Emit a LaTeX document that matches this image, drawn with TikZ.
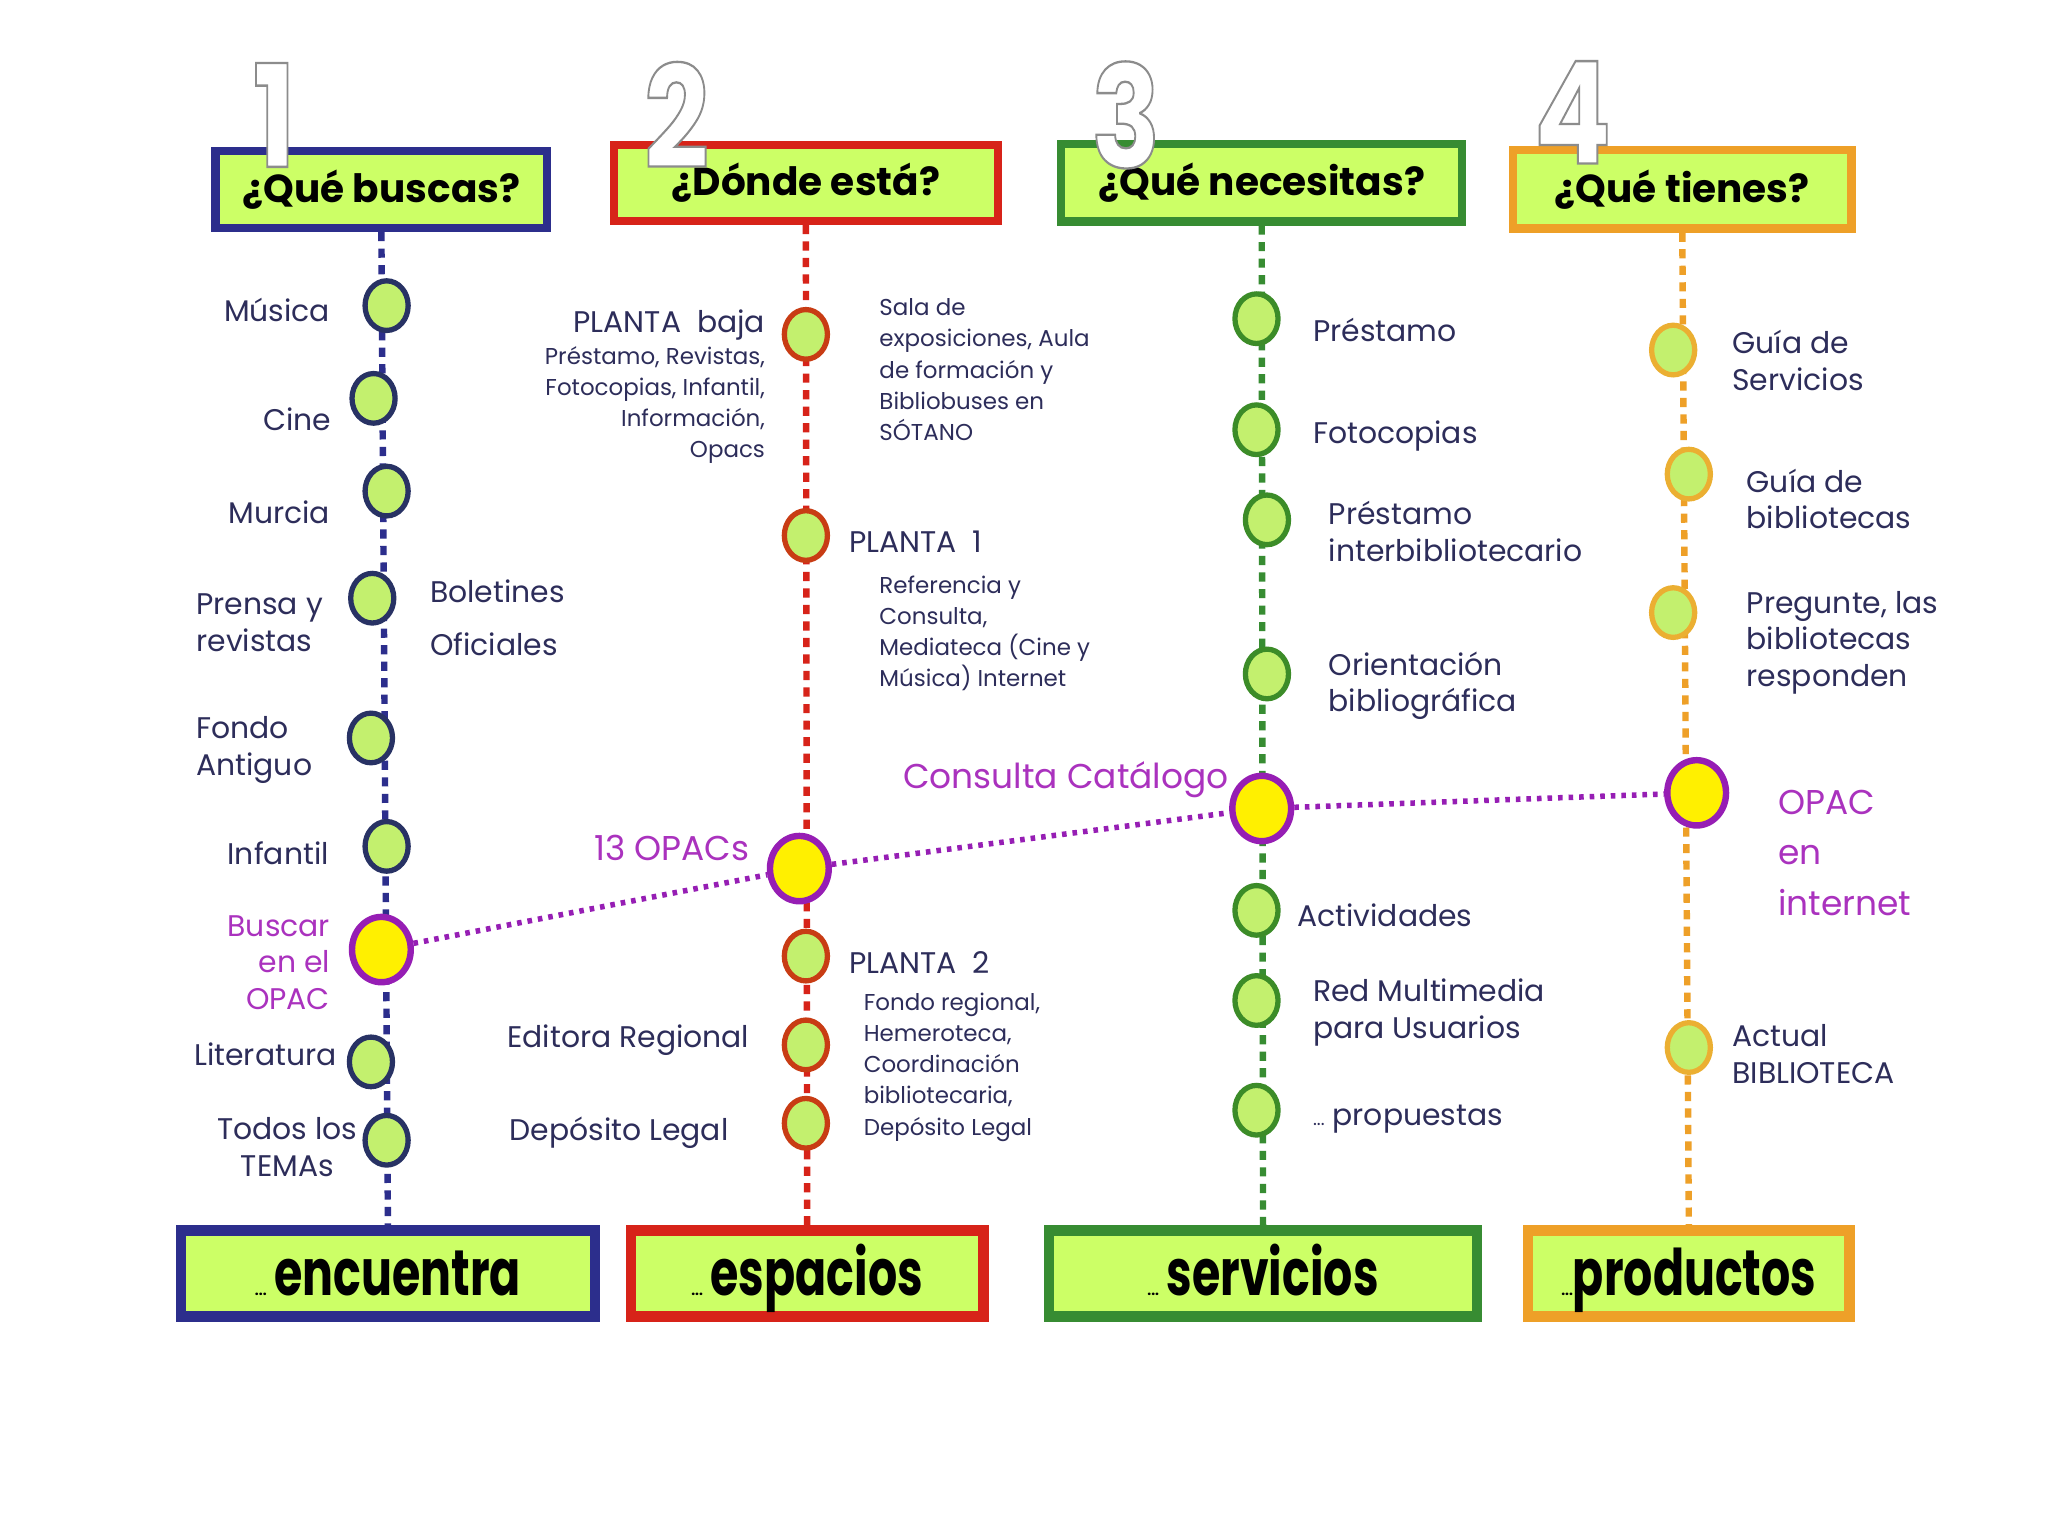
\documentclass[tikz,border=0pt]{standalone}
\usepackage{fontspec}
\setmainfont{Poppins}
\usetikzlibrary{shapes.geometric}

\definecolor{qBlue}{RGB}{44,46,140}
\definecolor{qRed}{RGB}{215,35,25}
\definecolor{qGreen}{RGB}{55,140,50}
\definecolor{qOrange}{RGB}{238,160,40}
\definecolor{boxFill}{RGB}{204,255,102}
\definecolor{dotFill}{RGB}{195,240,110}
\definecolor{hubPurple}{RGB}{150,30,180}
\definecolor{hubYellow}{RGB}{255,240,0}
\definecolor{txtNavy}{RGB}{45,45,90}
\definecolor{txtPurple}{RGB}{170,50,190}
\definecolor{ringBlue}{RGB}{40,50,100}
\definecolor{ringRed}{RGB}{200,60,20}
\definecolor{ringGreen}{RGB}{60,140,40}
\definecolor{ringGold}{RGB}{235,175,50}

% cifra hueca: relleno blanco, trazo gris
\newcommand\hollownum[1]{\special{pdf:literal direct 2 Tr 1 w 0.55 G}#1\special{pdf:literal direct 0 Tr}}

\tikzset{
  qbox/.style={draw, line width=3.6pt, fill=boxFill, inner sep=0pt, text=black,
    font=\fontsize{17}{20}\selectfont\bfseries},
  endbox/.style={draw, line width=4.5pt, fill=boxFill, inner sep=0pt, text=black,
    minimum height=1.32cm, text height=0.8cm, text depth=0.12cm,
    font=\fontsize{20}{24}\selectfont\bfseries},
  rail/.style={line width=2.8pt, dash pattern=on 4pt off 3.2pt},
  opacline/.style={hubPurple, line width=2.4pt, dash pattern=on 2pt off 2.6pt},
  stopdot/.style={ellipse, draw, line width=2.3pt, fill=dotFill, inner sep=0pt,
    minimum width=0.66cm, minimum height=0.76cm},
  hub/.style={ellipse, draw=hubPurple, line width=2.8pt, fill=hubYellow, inner sep=0pt,
    minimum width=0.9cm, minimum height=1cm},
  lbl/.style={text=txtNavy, inner sep=0pt, font=\fontsize{13}{16}\selectfont},
  smalllbl/.style={text=txtNavy, inner sep=0pt, font=\fontsize{10}{13.6}\selectfont},
  hublbl/.style={text=txtPurple, inner sep=0pt, font=\fontsize{15}{19}\selectfont},
  bignum/.style={text=white, inner sep=0pt, font=\fontsize{62}{62}\selectfont\bfseries}
}

\begin{document}
\begin{tikzpicture}[x=0.02cm,y=-0.02cm]
  \useasboundingbox[fill=white] (0,0) rectangle (1568,1176);

  % preguntas
  \node[qbox, draw=qBlue, minimum width=5.08cm, minimum height=1.18cm] (qbusca) at (292,145) {¿Qué buscas?};
  \node[qbox, draw=qRed, minimum width=5.88cm, minimum height=1.16cm] (qdonde) at (617,140) {¿Dónde está?};
  \node[qbox, draw=qGreen, minimum width=6.14cm, minimum height=1.18cm] (qnecesita) at (966,140) {¿Qué necesitas?};
  \node[qbox, draw=qOrange, minimum width=5.18cm, minimum height=1.2cm] (qtiene) at (1288,145) {¿Qué tienes?};

  % respuestas
  \node[endbox, draw=qBlue, minimum width=6.34cm] (encuentra) at (297,975)
    {{\fontsize{6}{6}\selectfont ...}\,\scalebox{1}[1.4]{encuentra}};
  \node[endbox, draw=qRed, minimum width=5.4cm] (espacios) at (618,975)
    {{\fontsize{6}{6}\selectfont ...}\,\scalebox{1}[1.4]{espacios}};
  \node[endbox, draw=qGreen, minimum width=6.56cm] (servicios) at (967,975)
    {{\fontsize{6}{6}\selectfont ...}\,\scalebox{1}[1.4]{servicios}};
  \node[endbox, draw=qOrange, minimum width=4.92cm] (productos) at (1293,975)
    {{\fontsize{6}{6}\selectfont ...}\scalebox{1}[1.4]{productos}};

  \draw[rail, draw=qBlue] (qbusca.south) -- (encuentra.north);
  \draw[rail, draw=qRed] (qdonde.south) -- (espacios.north);
  \draw[rail, draw=qGreen] (qnecesita.south) -- (servicios.north);
  \draw[rail, draw=qOrange] (qtiene.south) -- (productos.north);

  % columna 1
  \node[stopdot, draw=ringBlue] (smusica) at (296,234) {};
  \node[stopdot, draw=ringBlue] (scine) at (286,305) {};
  \node[stopdot, draw=ringBlue] (smurcia) at (296,376) {};
  \node[stopdot, draw=ringBlue] (sprensa) at (285,458) {};
  \node[stopdot, draw=ringBlue] (sfondo) at (284,565) {};
  \node[stopdot, draw=ringBlue] (sinfantil) at (296,648) {};
  \node[hub] (hbuscar) at (292,727) {};
  \node[stopdot, draw=ringBlue] (sliteratura) at (284,813) {};
  \node[stopdot, draw=ringBlue] (stemas) at (296,873) {};

  \node[lbl, anchor=east] (lmusica) at (253,237) {Música};
  \node[lbl, anchor=east] (lcine) at (254,321) {Cine};
  \node[lbl, anchor=east] (lmurcia) at (253,392) {Murcia};
  \node[lbl, anchor=west, align=left] (lprensa) at (150,477) {Prensa y\\revistas};
  \node[lbl, anchor=west, align=left] (lboletines) at (329,473) {Boletines\\[7pt]Oficiales};
  \node[lbl, anchor=west, align=left] (lfondo) at (150,574) {Fondo\\Antiguo};
  \node[lbl, anchor=east] (linfantil) at (252,653) {Infantil};
  \node[hublbl, anchor=east, align=right, font=\fontsize{13}{16}\selectfont] (lbuscar) at (253,737) {Buscar\\en el\\OPAC};
  \node[lbl, anchor=east] (lliteratura) at (258,807) {Literatura};
  \node[lbl, align=center] (ltemas) at (220,878) {Todos los\\TEMAs};

  % columna 2
  \node[stopdot, draw=ringRed] (sbaja) at (617,256) {};
  \node[stopdot, draw=ringRed] (splanta1) at (617,410) {};
  \node[hub] (hopacs) at (612,665) {};
  \node[stopdot, draw=ringRed] (splanta2) at (617,732) {};
  \node[stopdot, draw=ringRed] (seditora) at (617,800) {};
  \node[stopdot, draw=ringRed] (sdeposito) at (617,860) {};

  \node[lbl, anchor=east] (lbaja) at (586,249) {PLANTA~~baja};
  \node[smalllbl, anchor=east, align=right] (lbajadet) at (586,310)
    {Préstamo, Revistas,\\Fotocopias, Infantil,\\Información,\\Opacs};
  \node[smalllbl, anchor=west, align=left] (lsotano) at (673,283)
    {Sala de\\exposiciones, Aula\\de formación y\\Bibliobuses en\\SÓTANO};
  \node[lbl, anchor=west] (lplanta1) at (650,415) {PLANTA~~1};
  \node[smalllbl, anchor=west, align=left] (lplanta1det) at (673,485)
    {Referencia y\\Consulta,\\Mediateca (Cine y\\Música) Internet};
  \node[hublbl, anchor=east] (lopacs) at (574,649) {13 OPACs};
  \node[lbl, anchor=west] (lplanta2) at (650,737) {PLANTA~~2};
  \node[smalllbl, anchor=west, align=left] (lplanta2det) at (661,817)
    {Fondo regional,\\Hemeroteca,\\Coordinación\\bibliotecaria,\\Depósito Legal};
  \node[lbl, anchor=east] (leditora) at (574,796) {Editora Regional};
  \node[lbl, anchor=east] (ldeposito) at (558,867) {Depósito Legal};

  % columna 3
  \node[stopdot, draw=ringGreen] (sprestamo) at (962,244) {};
  \node[stopdot, draw=ringGreen] (sfotocopias) at (962,329) {};
  \node[stopdot, draw=ringGreen] (sinterbib) at (970,398) {};
  \node[stopdot, draw=ringGreen] (sorienta) at (970,516) {};
  \node[hub] (hconsulta) at (966,619) {};
  \node[stopdot, draw=ringGreen] (sactividades) at (962,697) {};
  \node[stopdot, draw=ringGreen] (sred) at (962,766) {};
  \node[stopdot, draw=ringGreen] (spropuestas) at (962,850) {};

  \node[lbl, anchor=west] (lprestamo) at (1005,253) {Préstamo};
  \node[lbl, anchor=west] (lfotocopias) at (1005,334) {Fotocopias};
  \node[lbl, anchor=west, align=left] (linterbib) at (1017,407) {Préstamo\\interbibliotecario};
  \node[lbl, anchor=west, align=left] (lorienta) at (1017,525) {Orientación\\bibliográfica};
  \node[hublbl, anchor=east] (lconsulta) at (941,597) {Consulta Catálogo};
  \node[lbl, anchor=west] (lactividades) at (993,701) {Actividades};
  \node[lbl, anchor=west, align=left] (lred) at (1005,775) {Red Multimedia\\para Usuarios};
  \node[lbl, anchor=west] (lpropuestas) at (1005,857) {{\fontsize{8}{8}\selectfont ...}\ propuestas};

  % columna 4
  \node[stopdot, draw=ringGold] (sguiaserv) at (1281,268) {};
  \node[stopdot, draw=ringGold] (sguiabib) at (1293,363) {};
  \node[stopdot, draw=ringGold] (spregunte) at (1281,469) {};
  \node[hub] (hinternet) at (1299,607) {};
  \node[stopdot, draw=ringGold] (sactual) at (1293,802) {};

  \node[lbl, anchor=west, align=left] (lguiaserv) at (1326,276) {Guía de\\Servicios};
  \node[lbl, anchor=west, align=left] (lguiabib) at (1337,382) {Guía de\\bibliotecas};
  \node[lbl, anchor=west, align=left] (lpregunte) at (1337,492) {Pregunte, las\\bibliotecas\\responden};
  \node[hublbl, anchor=west, align=left] (linternet) at (1361,653) {OPAC\\[3pt]en\\[3pt]internet};
  \node[lbl, anchor=west, align=left] (lactual) at (1326,807) {Actual\\BIBLIOTECA};

  % enlace OPAC
  \draw[opacline] (hbuscar) -- (hopacs) -- (hconsulta) -- (hinternet);

  % numeros
  \node[bignum] (num1) at (210,88) {\scalebox{0.8}[1]{\hollownum{1}}};
  \node[bignum] (num2) at (518,88) {\scalebox{0.8}[1]{\hollownum{2}}};
  \node[bignum] (num3) at (862,88) {\scalebox{0.8}[1]{\hollownum{3}}};
  \node[bignum] (num4) at (1204,86) {\scalebox{0.8}[1]{\hollownum{4}}};
\end{tikzpicture}
\end{document}
